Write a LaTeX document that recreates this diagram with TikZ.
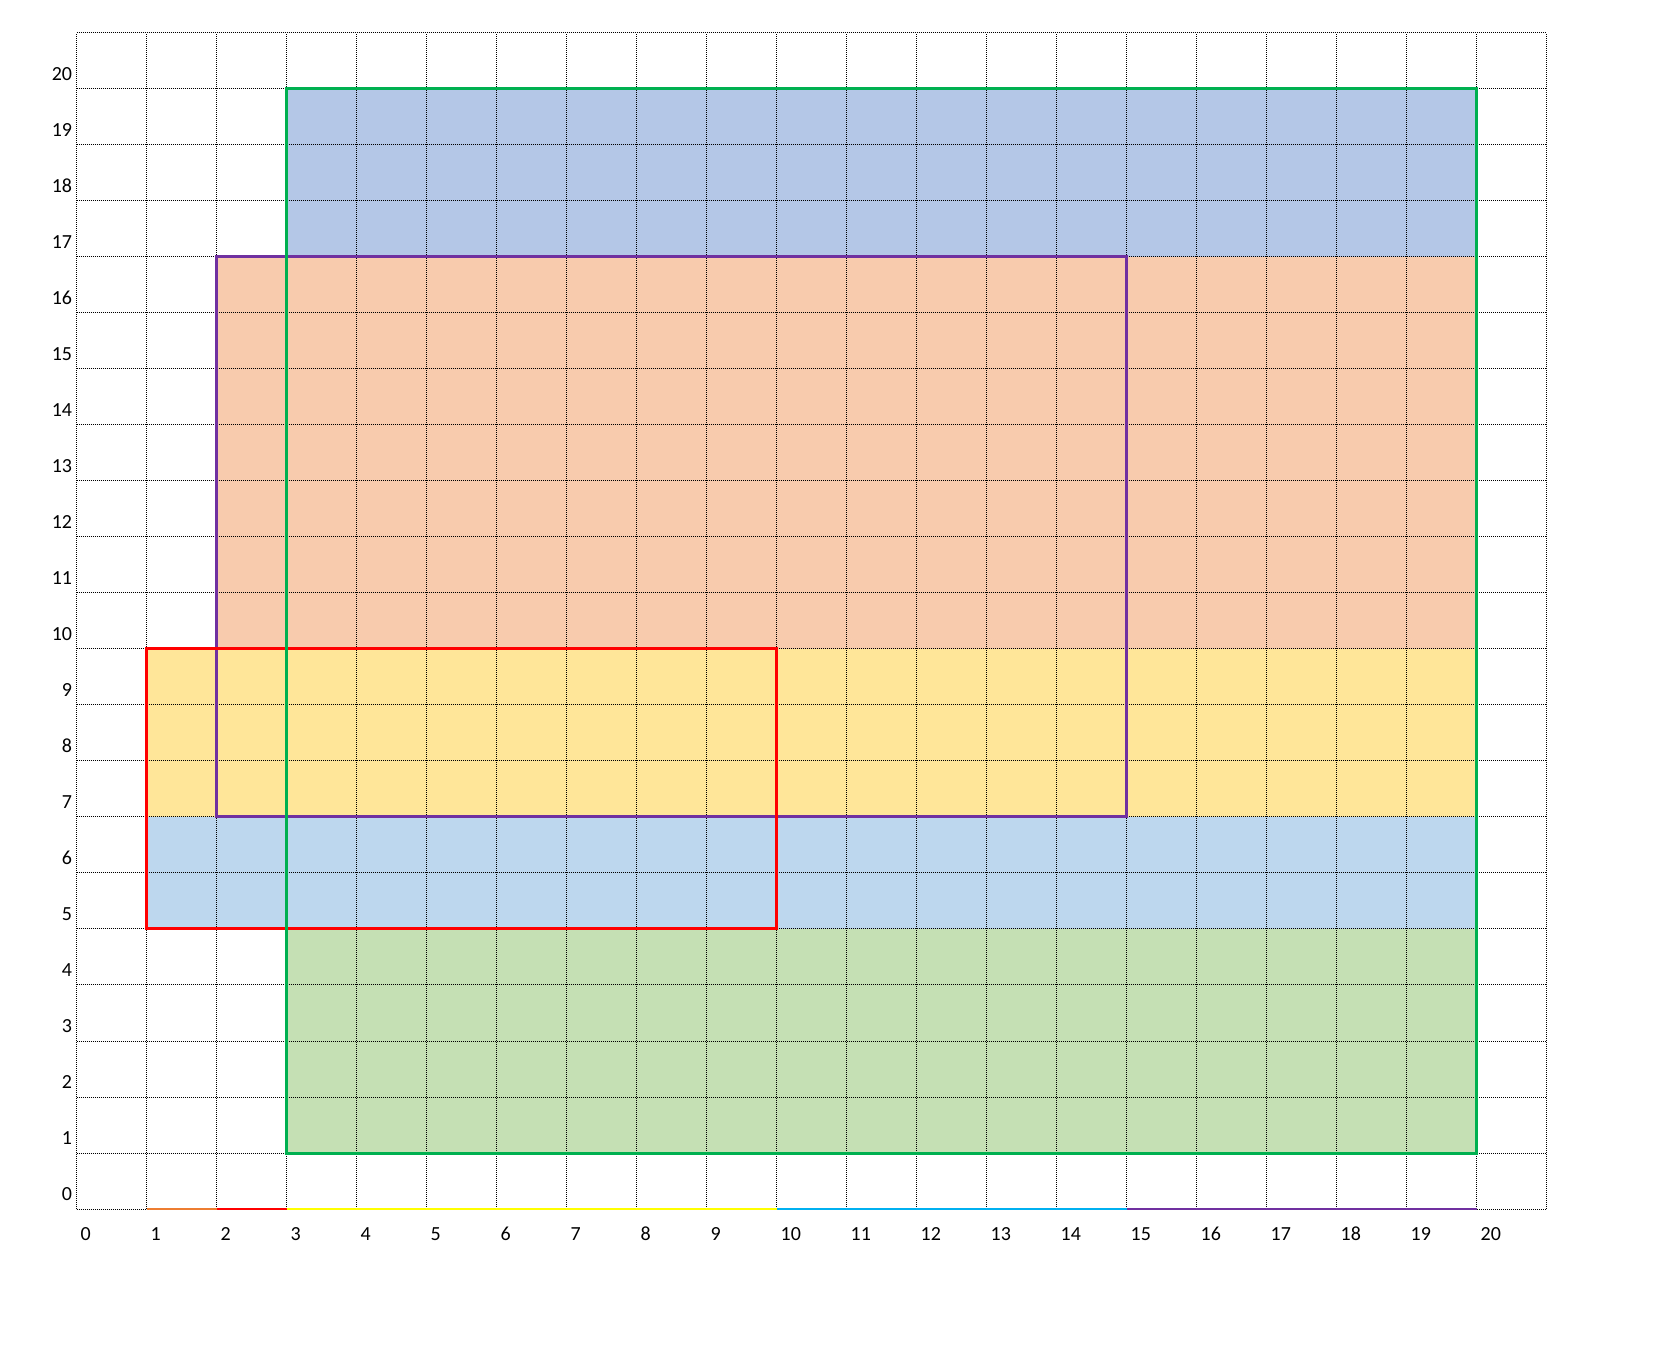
\documentclass[tikz,border=0pt]{standalone}
\usepackage{fontspec}
\setmainfont{Carlito}
\definecolor{fblue}{HTML}{B4C7E7}
\definecolor{forange}{HTML}{F8CBAD}
\definecolor{fyellow}{HTML}{FFE699}
\definecolor{flblue}{HTML}{BDD7EE}
\definecolor{fgreen}{HTML}{C5E0B4}
\definecolor{lgreen}{HTML}{00B050}
\definecolor{lred}{HTML}{FF0000}
\definecolor{lpurple}{HTML}{7030A0}
\definecolor{lorange}{HTML}{ED7D31}
\definecolor{lyellow}{HTML}{FFFF00}
\definecolor{lcyan}{HTML}{00B0F0}
\tikzset{
  gridline/.style={black, line width=0.5pt, dash pattern=on 0.5pt off 0.5pt},
  outline/.style={line width=1.5pt},
  axisline/.style={line width=1.1pt},
  ylab/.style={anchor=base east, inner sep=0pt, font=\fontsize{10}{12}\selectfont},
  xlab/.style={anchor=base west, inner sep=0pt, font=\fontsize{10}{12}\selectfont}
}
\begin{document}
\begin{tikzpicture}[x=35pt,y=28pt]
\useasboundingbox (-1.0957,-2.643) rectangle (22.561,21.589);
% fills
\fill[fblue] (3,17) rectangle (20,20);
\fill[forange] (2,10) rectangle (20,17);
\fill[fyellow] (1,7) rectangle (20,10);
\fill[flblue] (1,5) rectangle (20,7);
\fill[fgreen] (3,1) rectangle (20,5);
% grid
\foreach \i in {0,...,21} {
  \draw[gridline] (\i,0) -- (\i,21);
  \draw[gridline] (0,\i) -- (21,\i);
}
% outlines
\draw[outline, lpurple] (2,7) rectangle (15,17);
\draw[outline, lred] (1,5) rectangle (10,10);
\draw[outline, lgreen] (3,1) rectangle (20,20);
% axis colour segments
\draw[axisline, lorange] (1,0) -- (2,0);
\draw[axisline, lred] (2,0) -- (3,0);
\draw[axisline, lyellow] (3,0) -- (10,0);
\draw[axisline, lcyan] (10,0) -- (15,0);
\draw[axisline, lpurple] (15,0) -- (20,0);
% labels
\foreach \i in {0,...,20} {
  \node[ylab] (yl\i) at (-0.06,\i+0.16) {\i};
  \node[xlab] (xl\i) at (\i+0.05,-0.554) {\i};
}
\end{tikzpicture}
\end{document}
